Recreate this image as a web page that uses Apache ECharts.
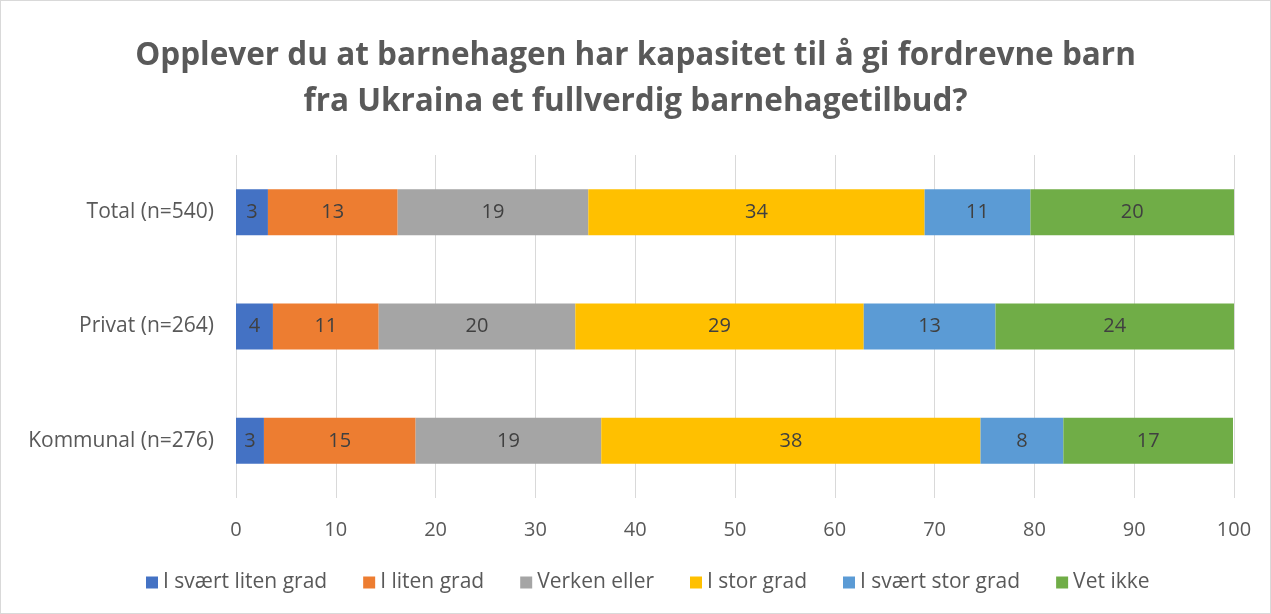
<!DOCTYPE html>
<html>
<head>
<meta charset="utf-8">
<script src="https://cdn.jsdelivr.net/npm/echarts@6/dist/echarts.min.js"></script>
<style>
  html, body { margin: 0; padding: 0; background: #fff; }
  #chart { width: 1271px; height: 614px; box-sizing: border-box; border: 1px solid #d9d9d9; }
</style>
</head>
<body>
<div id="chart"></div>
<script>
// kategorier (nederst til øverst)
const categories = ['Kommunal (n=276)', 'Privat (n=264)', 'Total (n=540)'];
const seriesNames = ['I svært liten grad', 'I liten grad', 'Verken eller', 'I stor grad', 'I svært stor grad', 'Vet ikke'];
const colors = ['#4472C4', '#ED7D31', '#A5A5A5', '#FFC000', '#5B9BD5', '#70AD47'];

// prosentverdier
const sværtLiten = [2.8, 3.7, 3.2];
const liten = [15.2, 10.6, 13.0];
const verken = [18.6, 19.7, 19.1];
const stor = [38.0, 28.9, 33.7];
const sværtStor = [8.3, 13.2, 10.6];
const vetIkke = [17.0, 23.9, 20.4];

const xTicks = [0, 10, 20, 30, 40, 50, 60, 70, 80, 90, 100];

const values = [sværtLiten, liten, verken, stor, sværtStor, vetIkke];
const font = '"Open Sans", "Noto Sans", sans-serif';

const chart = echarts.init(document.getElementById('chart'));

const option = {
  animation: false,
  title: {
    text: 'Opplever du at barnehagen har kapasitet til å gi fordrevne barn\nfra Ukraina et fullverdig barnehagetilbud?',
    left: 'center',
    top: 27,
    textStyle: {
      fontFamily: font,
      fontSize: 31.5,
      fontWeight: 'bold',
      color: '#595959',
      lineHeight: 46
    }
  },
  legend: {
    bottom: 15,
    left: 140,
    itemWidth: 12,
    itemHeight: 12,
    itemGap: 36,
    icon: 'rect',
    textStyle: { fontFamily: font, fontSize: 21, color: '#595959' },
    data: seriesNames
  },
  grid: {
    left: 235,
    right: 36,
    top: 154,
    bottom: 115,
    containLabel: false
  },
  xAxis: {
    type: 'value',
    min: 0,
    max: 100,
    interval: 10,
    axisLine: { show: false },
    axisTick: { show: false },
    splitLine: { lineStyle: { color: '#d9d9d9', width: 1 } },
    axisLabel: {
      fontFamily: font,
      fontSize: 20,
      color: '#595959',
      margin: 22,
      formatter: v => xTicks.includes(v) ? String(v) : ''
    }
  },
  yAxis: {
    type: 'category',
    data: categories,
    axisLine: { show: false },
    axisTick: { show: false },
    axisLabel: {
      fontFamily: font,
      fontSize: 21,
      color: '#595959',
      margin: 22
    }
  },
  series: seriesNames.map((name, i) => ({
    name: name,
    type: 'bar',
    stack: 'total',
    barWidth: 46,
    data: values[i],
    itemStyle: { color: colors[i] },
    label: {
      show: true,
      position: 'inside',
      fontFamily: font,
      fontSize: 20,
      color: '#404040',
      formatter: p => Math.round(p.value)
    }
  }))
};

chart.setOption(option);
window.addEventListener('resize', () => chart.resize());
</script>
</body>
</html>
